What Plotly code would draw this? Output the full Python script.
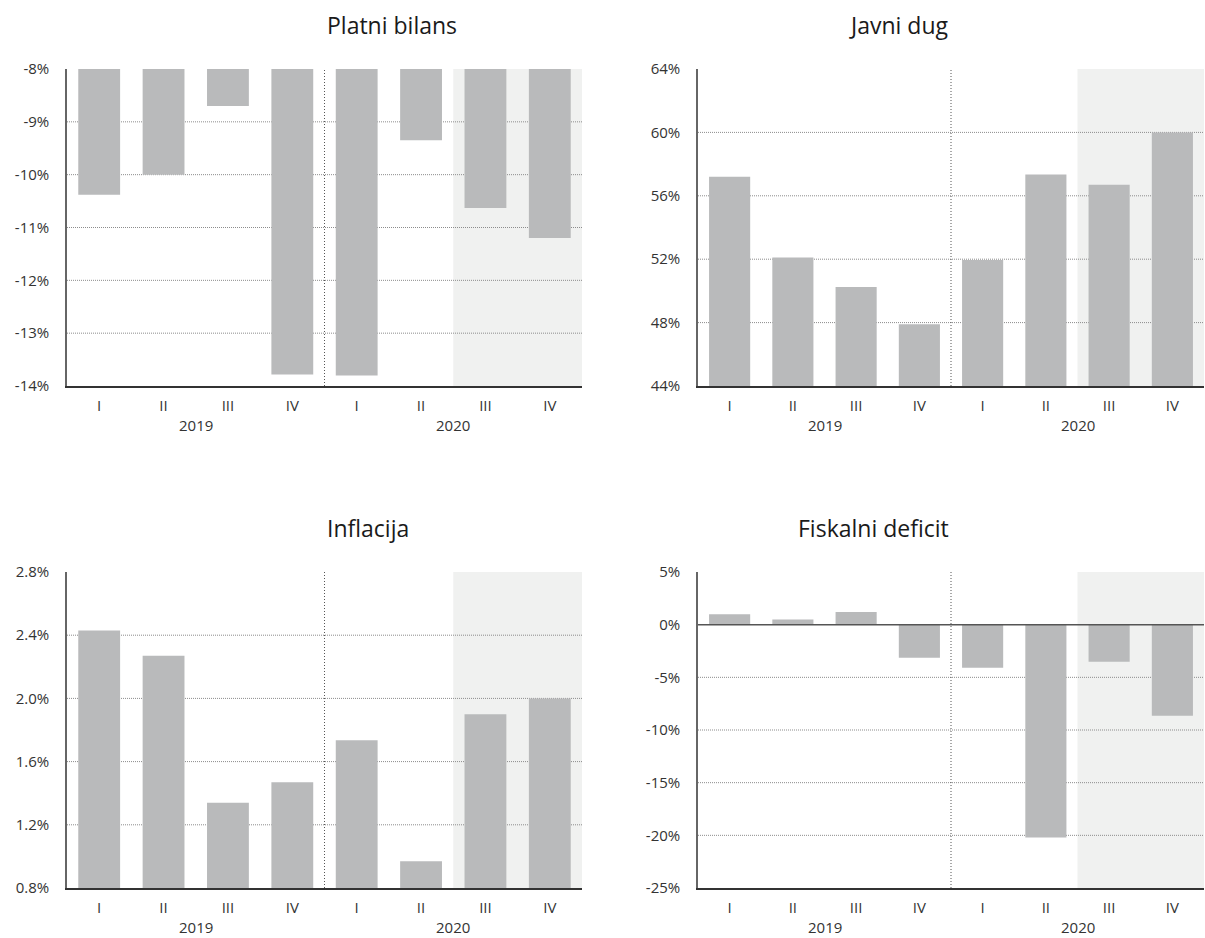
import plotly.graph_objects as go

quarters = ["I", "II", "III", "IV", "I", "II", "III", "IV"]
years = ["2019", "2020"]

platni_bilans = [-10.38, -10.0, -8.7, -13.78, -13.8, -9.35, -10.63, -11.2]
javni_dug = [57.2, 52.1, 50.25, 47.9, 51.95, 57.35, 56.7, 60.0]
inflacija = [2.43, 2.27, 1.34, 1.47, 1.735, 0.97, 1.90, 2.0]
fiskalni_deficit = [1.0, 0.5, 1.2, -3.15, -4.1, -20.2, -3.53, -8.64]

titles = ["Platni bilans", "Javni dug", "Inflacija", "Fiskalni deficit"]

pb_ticks = [-14, -13, -12, -11, -10, -9, -8]
pb_labels = ["-14%", "-13%", "-12%", "-11%", "-10%", "-9%", "-8%"]
jd_ticks = [44, 48, 52, 56, 60, 64]
jd_labels = ["44%", "48%", "52%", "56%", "60%", "64%"]
inf_ticks = [0.8, 1.2, 1.6, 2.0, 2.4, 2.8]
inf_labels = ["0.8%", "1.2%", "1.6%", "2.0%", "2.4%", "2.8%"]
fd_ticks = [-25, -20, -15, -10, -5, 0, 5]
fd_labels = ["-25%", "-20%", "-15%", "-10%", "-5%", "0%", "5%"]

W, H = 1205, 938
FONT = "Open Sans"
BAR = "#B9BABB"
SHADE = "#F0F1F0"
TXT = "#333333"

panels = [
    dict(vals=platni_bilans, ticks=pb_ticks, labels=pb_labels, base=-8, px=(67, 582), py=(69, 386)),
    dict(vals=javni_dug, ticks=jd_ticks, labels=jd_labels, base=None, px=(698, 1204), py=(69, 386)),
    dict(vals=inflacija, ticks=inf_ticks, labels=inf_labels, base=None, px=(67, 582), py=(572, 888)),
    dict(vals=fiskalni_deficit, ticks=fd_ticks, labels=fd_labels, base=0, px=(698, 1204), py=(572, 888)),
]

fig = go.Figure()
xs = list(range(len(quarters)))
n = len(quarters)

for i, p in enumerate(panels):
    k = "" if i == 0 else str(i + 1)
    xa, ya = "x" + k, "y" + k
    vals = p["vals"]
    if p["base"] is not None and p["base"] != 0:
        # bars hanging from top of axis
        fig.add_trace(go.Bar(x=xs, y=[v - p["base"] for v in vals], base=p["base"],
                             marker=dict(color=BAR, line=dict(width=0)), width=0.65,
                             xaxis=xa, yaxis=ya, showlegend=False, hoverinfo="skip"))
    else:
        fig.add_trace(go.Bar(x=xs, y=vals, marker=dict(color=BAR, line=dict(width=0)),
                             width=0.65, xaxis=xa, yaxis=ya, showlegend=False, hoverinfo="skip"))
    x0d, x1d = p["px"][0] / W, p["px"][1] / W
    y1d, y0d = 1 - p["py"][0] / H, 1 - p["py"][1] / H
    tk = p["ticks"]
    fig.layout["xaxis" + k] = dict(
        domain=[x0d, x1d], range=[-0.5, n - 0.5], anchor=ya, automargin=False,
        tickvals=xs, ticktext=quarters, showgrid=False, zeroline=False,
        showline=True, linecolor="#333", linewidth=1.5, ticks="",
        tickfont=dict(family=FONT, size=15, color=TXT), ticklabelstandoff=5,
        fixedrange=True,
    )
    fig.layout["yaxis" + k] = dict(
        domain=[y0d, y1d], range=[tk[0], tk[-1]], anchor=xa, automargin=False,
        tickvals=tk, ticktext=p["labels"], showgrid=False, zeroline=False,
        showline=True, linecolor="#666", linewidth=1.5, ticks="",
        tickfont=dict(family=FONT, size=15, color=TXT), ticklabelstandoff=13,
        fixedrange=True,
    )
    # forecast shading (last two quarters of 2020)
    fig.add_shape(type="rect", xref=xa, yref=ya + " domain", x0=5.5, x1=n - 0.5, y0=0, y1=1,
                  fillcolor=SHADE, line=dict(width=0), layer="below")
    # gridlines
    for t in tk[1:-1]:
        if t == 0:
            continue
        fig.add_shape(type="line", xref=xa + " domain", yref=ya, x0=0, x1=1, y0=t, y1=t,
                      line=dict(color="#8c8c8c", width=1, dash="1px,1px"), layer="below")
    # year divider
    fig.add_shape(type="line", xref=xa, yref=ya + " domain", x0=3.5, x1=3.5, y0=0, y1=1,
                  line=dict(color="#555", width=1, dash="1px,2px"), layer="below")
    # zero line
    if tk[0] < 0 < tk[-1]:
        fig.add_shape(type="line", xref=xa + " domain", yref=ya, x0=0, x1=1, y0=0, y1=0,
                      line=dict(color="#555", width=1.5), layer="above")
    # year labels
    for j, yr in enumerate(years):
        fig.add_annotation(x=1.5 + 4 * j, xref=xa, y=y0d - 39 / H, yref="paper",
                           text=yr, showarrow=False, yanchor="middle",
                           font=dict(family=FONT, size=15, color=TXT))
    # title
    fig.add_annotation(x=(x0d + x1d) / 2, xref="paper", y=1 - (p["py"][0] - 44) / H, yref="paper",
                       text=titles[i], showarrow=False, yanchor="middle",
                       font=dict(family=FONT, size=23, color="#1a1a1a"))

fig.update_layout(
    width=W, height=H, margin=dict(l=0, r=0, t=0, b=0, autoexpand=False),
    paper_bgcolor="white", plot_bgcolor="white", bargap=0.35,
    showlegend=False,
)

fig.write_html("out.html", config={"displayModeBar": False},
               post_script="document.body.style.margin='0';document.body.style.overflow='hidden';")
